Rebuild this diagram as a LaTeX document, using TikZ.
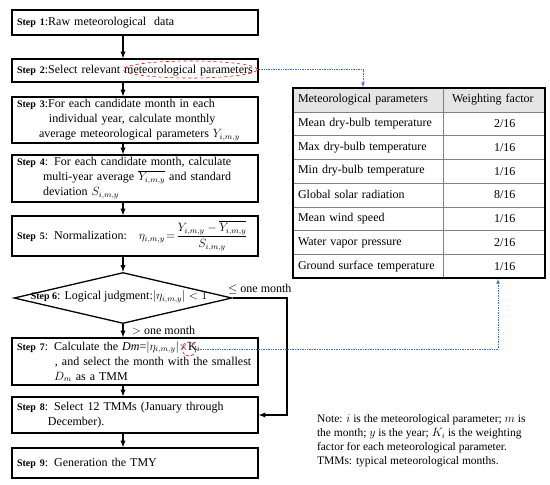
\documentclass[tikz,border=0pt]{standalone}
\usepackage{amsmath}
\usepackage{fontspec}
\setmainfont{Liberation Serif}
\usetikzlibrary{shapes.geometric,arrows}

\definecolor{linkblue}{RGB}{68,114,196}
\newcommand{\stp}[1]{{\fontsize{10}{12}\selectfont\bfseries Step #1}}
\newcommand{\wf}[1]{\hspace*{46pt}#1}

\tikzset{
    stepbox/.style={draw, line width=1.3pt, minimum width=246pt, text width=236pt, align=left,
        inner xsep=5pt, inner ysep=2pt, font=\fontsize{12}{15}\selectfont},
    flow/.style={line width=1.3pt, -latex},
    link/.style={linkblue, densely dotted, line width=0.7pt, -latex},
    redring/.style={draw=red, dashed, line width=0.6pt, ellipse, inner sep=0pt},
    pcell/.style={draw=gray, minimum width=150pt, minimum height=23.75pt, text width=140pt,
        align=left, inner xsep=5pt, font=\fontsize{12}{14}\selectfont},
    wcell/.style={draw=gray, minimum width=102pt, minimum height=23.75pt, text width=92pt,
        align=left, inner xsep=5pt, font=\fontsize{12}{14}\selectfont}
}

\begin{document}
\begin{tikzpicture}[x=1pt,y=1pt]
    \useasboundingbox (0,0) rectangle (550,-485);

    % flow chart
    \node[stepbox, minimum height=25pt] (s1) at (135,-22.5) {\stp{1}:Raw meteorological\ \ data};
    \node[stepbox, minimum height=23pt] (s2) at (135,-70.5) {\stp{2}:Select relevant meteorological parameters};
    \node[stepbox, minimum height=46pt] (s3) at (135,-120) {\stp{3}:For each candidate month in each\\
        \hspace*{32pt}individual year, calculate monthly\\
        \hspace*{22pt}average meteorological parameters $Y_{i,m,y}$};
    \node[stepbox, minimum height=47pt] (s4) at (135,-178.5) {\stp{4}: For each candidate month, calculate\\
        \hspace*{26pt}multi-year average $\overline{Y_{i,m,y}}$ and standard\\
        \hspace*{26pt}deviation $S_{i,m,y}$};
    \node[stepbox, minimum height=40pt] (s5) at (135,-236) {\mbox{\stp{5}: Normalization:\hspace{12pt}$\eta_{i,m,y}\!=\!\dfrac{Y_{i,m,y}-\overline{Y_{i,m,y}}}{S_{i,m,y}}$}};
    \node[draw, diamond, line width=1.3pt, minimum width=218pt, minimum height=51pt, inner sep=0pt] (s6) at (123,-298) {};
    \node[font=\fontsize{12}{15}\selectfont] (s6t) at (119,-297) {\stp{6}: Logical judgment:$\left|\eta_{i,m,y}\right|<1$};
    \node[stepbox, minimum height=47pt] (s7) at (135,-361.5) {\stp{7}: Calculate the \textit{Dm}=$|\eta_{i,m,y}|\times$K$_i$\\
        \hspace*{38pt}, and select the month with the smallest\\
        \hspace*{37pt}$D_m$ as a TMM};
    \node[stepbox, minimum height=36pt] (s8) at (135,-415) {\stp{8}: Select 12 TMMs (January through\\
        \hspace*{31pt}December).};
    \node[stepbox, minimum height=30pt] (s9) at (135,-463) {\stp{9}: Generation the TMY};

    % marks round the text
    \node[redring, minimum width=134pt, minimum height=17pt] (sel) at (190,-69.5) {};
    \node[redring, densely dashed, minimum width=14pt, minimum height=14pt] (ki) at (189,-349) {};

    \draw[flow] (s1.south -| s6.north) -- (s2.north -| s6.north);
    \draw[flow] (s2.south -| s6.north) -- (s3.north -| s6.north);
    \draw[flow] (s3.south -| s6.north) -- (s4.north -| s6.north);
    \draw[flow] (s4.south -| s6.north) -- (s5.north -| s6.north);
    \draw[flow] (s5.south -| s6.north) -- (s6.north);
    \draw[flow] (s6.south) -- node[right, xshift=5pt, font=\fontsize{12}{14}\selectfont]{$>$ one month} (s7.north -| s6.south);
    \draw[flow] (s7.south -| s6.north) -- (s8.north -| s6.north);
    \draw[flow] (s8.south -| s6.north) -- (s9.north -| s6.north);
    \coordinate (bend) at (287,-298);
    \draw[flow] (s6.east) -- node[above, font=\fontsize{12}{14}\selectfont]{$\leq$ one month} (bend) |- (s8.east);

    % table of weighting factors
    \node[pcell, fill=gray!20] (p0) at (368,-99.875) {Meteorological parameters};
    \node[wcell, fill=gray!20] (w0) at (494,-99.875) {\hspace*{4pt}Weighting factor};
    \node[pcell] (p1) at (368,-123.625) {Mean dry-bulb temperature};
    \node[wcell] (w1) at (494,-123.625) {\wf{2/16}};
    \node[pcell] (p2) at (368,-147.375) {Max dry-bulb temperature};
    \node[wcell] (w2) at (494,-147.375) {\wf{1/16}};
    \node[pcell] (p3) at (368,-171.125) {Min dry-bulb temperature};
    \node[wcell] (w3) at (494,-171.125) {\wf{1/16}};
    \node[pcell] (p4) at (368,-194.875) {Global solar radiation};
    \node[wcell] (w4) at (494,-194.875) {\wf{8/16}};
    \node[pcell] (p5) at (368,-218.625) {Mean wind speed};
    \node[wcell] (w5) at (494,-218.625) {\wf{1/16}};
    \node[pcell] (p6) at (368,-242.375) {Water vapor pressure};
    \node[wcell] (w6) at (494,-242.375) {\wf{2/16}};
    \node[pcell] (p7) at (368,-266.125) {Ground surface temperature};
    \node[wcell] (w7) at (494,-266.125) {\wf{1/16}};
    \node[draw, line width=1.6pt, minimum width=252pt, minimum height=190pt, inner sep=0pt] (tab) at (419,-183) {};

    \draw[link] (sel.east) -| ([xshift=-56pt]tab.north);
    \draw[link] (ki.east) -| ([xshift=79pt]tab.south);

    \node[anchor=north west, align=left, font=\fontsize{11.5}{14}\selectfont] (note) at (313.5,-411) {Note: $i$ is the meteorological parameter; $m$ is\\
        the month; $y$ is the year; $K_i$ is the weighting\\
        factor for each meteorological parameter.\\
        TMMs: typical meteorological months.};
\end{tikzpicture}
\end{document}
